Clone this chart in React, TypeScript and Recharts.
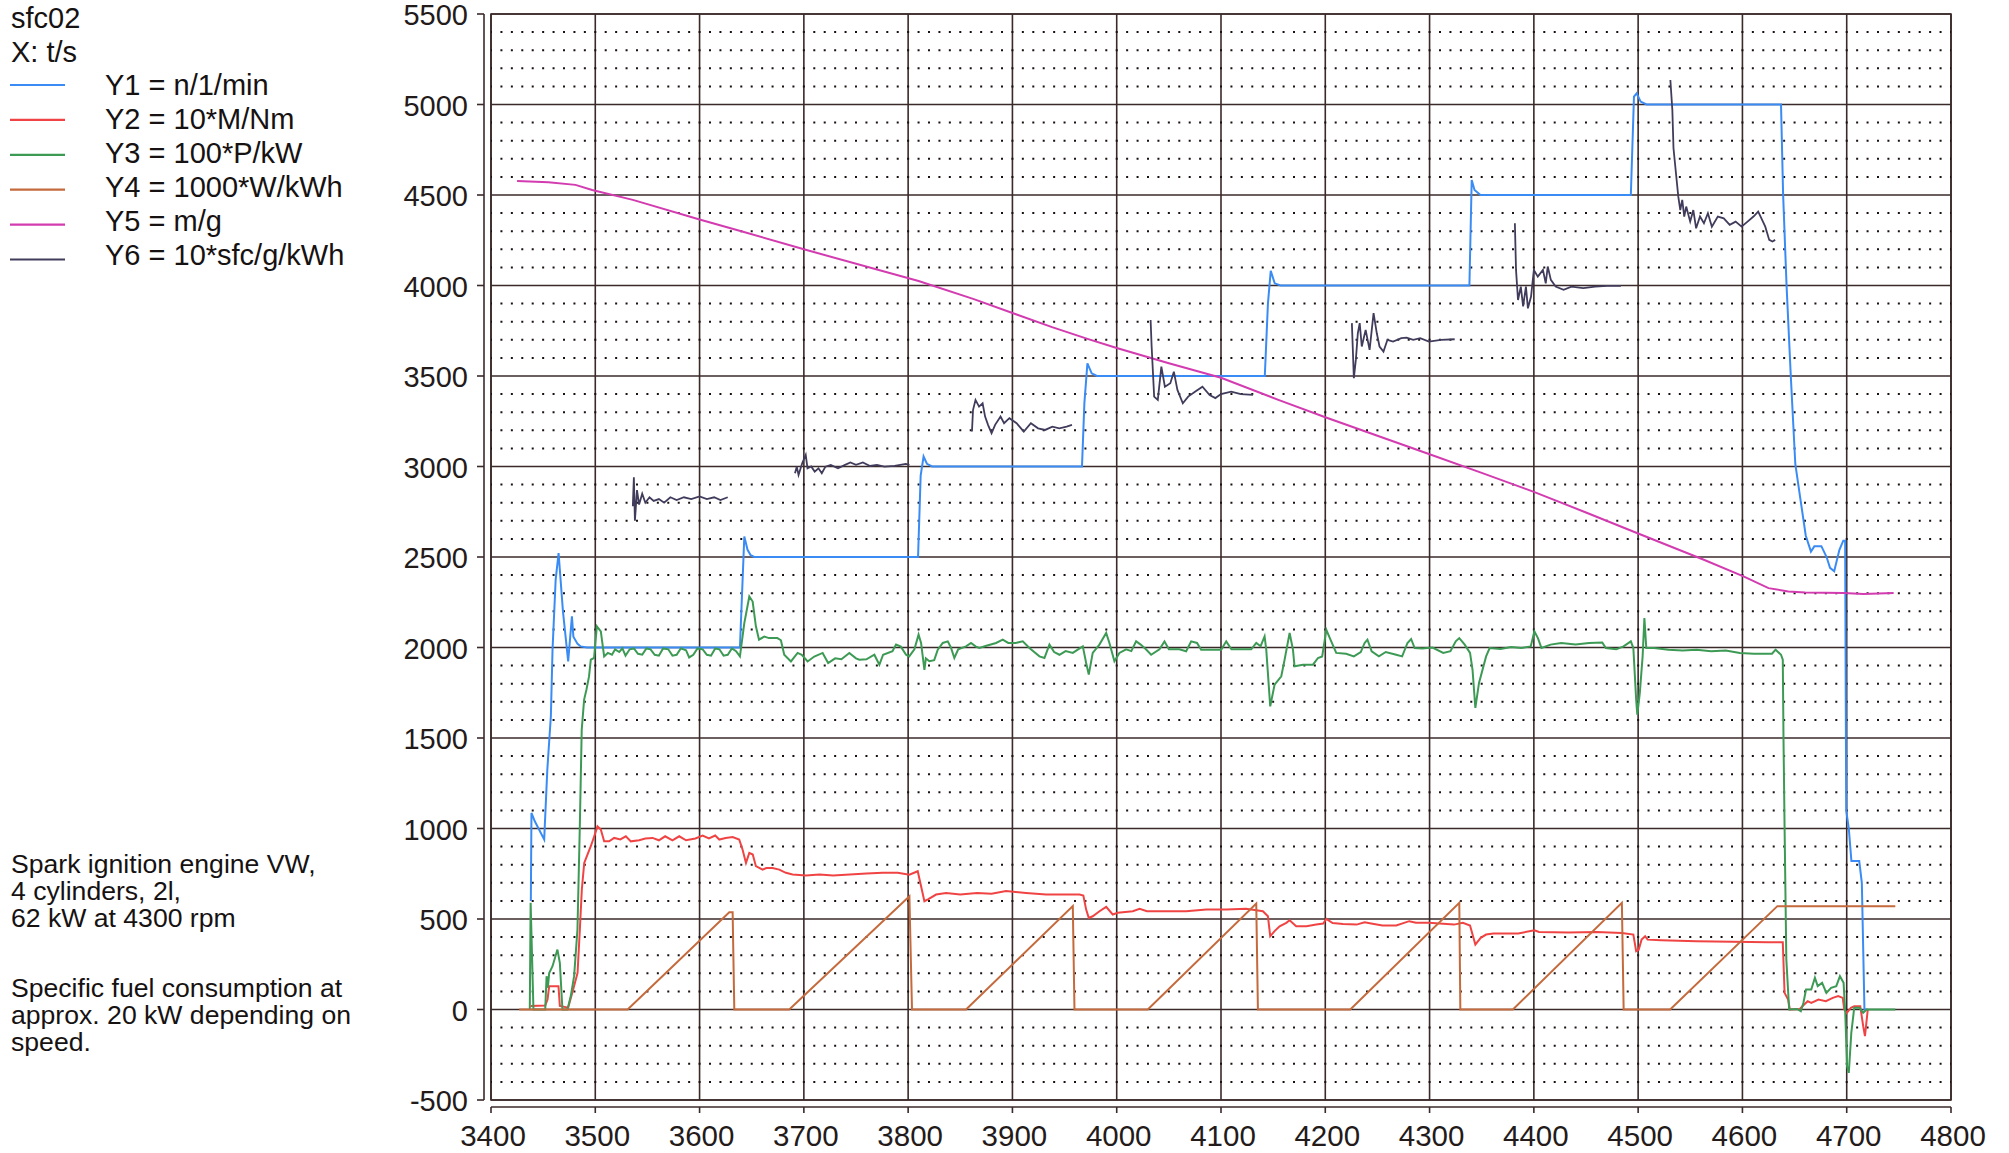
import { CartesianGrid, Line, LineChart, ReferenceArea, ReferenceLine, XAxis, YAxis } from 'recharts';

// t/s against scaled channel values
const X_TICKS = [3400, 3500, 3600, 3700, 3800, 3900, 4000, 4100, 4200, 4300, 4400, 4500, 4600, 4700, 4800];
const Y_TICKS = [-500, 0, 500, 1000, 1500, 2000, 2500, 3000, 3500, 4000, 4500, 5000, 5500];

// Y1 = n/1/min
const speed: [number, number][] = [
  [3438.2, 600], [3438.8, 1086], [3442, 1040], [3451, 939], [3454, 1325], [3457.4, 1620], [3459, 1988],
  [3462, 2374], [3464.8, 2522], [3469, 2200], [3474, 1923], [3477.6, 2172], [3479, 2060], [3483, 2020],
  [3486, 2006], [3492, 2000], [3638.7, 2000], [3642.9, 2613], [3646, 2540], [3649, 2510], [3652.4, 2500],
  [3809.5, 2500], [3812, 2950], [3814.8, 3055], [3818, 3015], [3823, 3000], [3966.7, 3000], [3969, 3350],
  [3971.9, 3570], [3976, 3515], [3981, 3500], [4142, 3500], [4145, 3900], [4147.7, 4081], [4151.5, 4012],
  [4157, 4000], [4338.2, 4000], [4340.4, 4583], [4343.1, 4528], [4348.8, 4500], [4493, 4500], [4496, 5043],
  [4498.6, 5062], [4502.4, 5016], [4508, 5000], [4637, 5000], [4639, 4506], [4642.3, 4002], [4646.3, 3508],
  [4650.7, 3014], [4655.7, 2816], [4660.7, 2619], [4665.7, 2530], [4669, 2560], [4675.7, 2560], [4680.7, 2500],
  [4684, 2440], [4688, 2421], [4693, 2540], [4696.7, 2590], [4698.5, 2590], [4699.5, 1100], [4702, 1000],
  [4704.5, 820], [4712, 820], [4714.5, 700], [4717, 0], [4720, 0],
];

// Y2 = 10*M/Nm
const torque: [number, number][] = [
  [3438, 20], [3452, 22], [3454.2, 55], [3455.8, 129], [3464.7, 129], [3466, 20], [3474, 10], [3478.8, 111],
  [3483, 202], [3485.2, 442], [3487.1, 663], [3489.4, 810], [3492.5, 856], [3495.7, 902], [3499, 957],
  [3502.1, 1012], [3505.3, 994], [3508.5, 929], [3513.3, 929], [3518.1, 948], [3524, 940], [3529.3, 957],
  [3534.1, 929], [3542, 935], [3548, 945], [3554.9, 948], [3561, 935], [3567, 957], [3574, 935], [3580.5, 957],
  [3587, 935], [3596, 945], [3602.9, 961], [3609, 945], [3615, 961], [3618.9, 939], [3625, 948], [3631.7, 953],
  [3638, 939], [3641.2, 884], [3644.5, 810], [3647.7, 865], [3651, 856], [3654, 792], [3660.4, 773],
  [3664, 782], [3670, 782], [3676.4, 773], [3682.8, 755], [3689.2, 746], [3702, 741], [3715, 746], [3728, 741],
  [3744, 746], [3760, 752], [3775.6, 755], [3790, 755], [3801.2, 745], [3809.2, 764], [3812.4, 681],
  [3815.6, 598], [3819, 608], [3826.8, 635], [3836.4, 644], [3850, 635], [3866, 644], [3880, 640],
  [3893.9, 654], [3913, 644], [3932.3, 635], [3950, 635], [3964.3, 635], [3968, 630], [3970.7, 552],
  [3973.2, 506], [3977, 515], [3983.5, 543], [3989.9, 567], [3996.2, 525], [4001, 534], [4015.4, 543],
  [4022, 556], [4029, 543], [4047, 543], [4066.6, 543], [4086, 552], [4105, 552], [4124, 556], [4140.2, 543],
  [4145, 515], [4147.2, 405], [4151.4, 433], [4156.2, 460], [4162.6, 479], [4165.8, 493], [4172.1, 460],
  [4182, 460], [4191.3, 469], [4198, 475], [4201, 501], [4207, 478], [4217, 472], [4230, 469], [4237.7, 482],
  [4244, 475], [4254.8, 464], [4268, 464], [4280.5, 488], [4287, 479], [4299.4, 479], [4313, 474],
  [4323.4, 469], [4331.9, 479], [4338.8, 464], [4341.2, 414], [4343.9, 359], [4349, 396], [4354.2, 414],
  [4361.1, 420], [4385, 420], [4400.5, 438], [4405, 428], [4433, 425], [4460, 428], [4484.4, 423],
  [4495.4, 414], [4498.1, 322], [4500.5, 330], [4503.3, 386], [4506.7, 405], [4509.1, 386], [4522, 383],
  [4556, 377], [4590, 374], [4625, 372], [4638.7, 372], [4640.4, 92], [4643.8, 55], [4645.5, 0], [4655, 3],
  [4659.2, 28], [4662.6, 46], [4666, 37], [4672.9, 55], [4680, 46], [4686.6, 64], [4691.8, 74], [4696.2, 64],
  [4697.6, 0], [4700, -20], [4704, 10], [4707.2, 18], [4713, 18], [4715.8, -92], [4717.5, -147],
  [4719.2, -55], [4720.2, 0],
];

// Y3 = 100*P/kW
const power: [number, number][] = [
  [3437.2, 0], [3438, 590], [3440.7, 0], [3452, 0], [3453.3, 184], [3454.5, 120], [3455.8, 202], [3459, 239],
  [3463.7, 331], [3466, 258], [3468.5, 0], [3473.3, 0], [3476.5, 74], [3479.7, 184], [3482.9, 442],
  [3485.1, 994], [3487, 1546], [3489.3, 1712], [3491.5, 1767], [3494, 1840], [3495.7, 1933], [3498.8, 1942],
  [3501.5, 2117], [3505.3, 2089], [3508.5, 1951], [3512, 1970], [3516, 1960], [3519, 1990], [3523, 1975],
  [3526, 1995], [3529, 1955], [3533, 1990], [3537, 1995], [3541, 1965], [3545, 1960], [3549, 1995],
  [3553, 1990], [3557, 1960], [3561, 1955], [3565, 1995], [3570, 1990], [3574, 1955], [3578, 1960],
  [3582, 1995], [3587, 1985], [3590, 1945], [3594, 1960], [3598, 1995], [3603, 1990], [3607, 1960],
  [3611, 1955], [3615, 1995], [3619, 1990], [3623, 1955], [3627, 1960], [3631, 1995], [3635, 1980],
  [3638.7, 1951], [3642.9, 2135], [3647.7, 2282], [3650.9, 2254], [3654, 2117], [3657, 2043], [3662, 2060],
  [3666.6, 2052], [3674.6, 2052], [3678, 2040], [3681.2, 1960], [3687.6, 1923], [3694, 1970], [3698, 1960],
  [3703.6, 1923], [3710, 1950], [3718, 1970], [3723.3, 1914], [3730, 1940], [3736, 1935], [3743.6, 1970],
  [3750, 1940], [3753.2, 1933], [3760, 1935], [3767.6, 1960], [3772.4, 1905], [3776, 1960], [3785, 1979],
  [3788.4, 2016], [3793, 2005], [3798, 1960], [3801, 1951], [3806, 1990], [3810, 2071], [3812.4, 2025],
  [3815.6, 1877], [3817, 1940], [3820.4, 1924], [3825, 1930], [3828.4, 1988], [3833.2, 2025], [3838, 2034],
  [3841, 2000], [3844.3, 1942], [3848, 1990], [3855.5, 2006], [3860.3, 2025], [3865, 2005], [3868.3, 1997],
  [3875, 2010], [3884.3, 2025], [3890.7, 2043], [3896, 2025], [3903, 2025], [3909.9, 2034], [3916.3, 1997],
  [3925.9, 1951], [3930.7, 1942], [3935.5, 2016], [3940, 1975], [3945.1, 1960], [3951, 1980], [3957.9, 1970],
  [3963, 1990], [3967.5, 2006], [3970.7, 1914], [3973.2, 1850], [3977, 1970], [3983.4, 2016], [3989.9, 2080],
  [3993, 2025], [3997.8, 1924], [4002.6, 1970], [4009, 1990], [4014, 1980], [4018.6, 2034], [4023, 2016],
  [4028, 1990], [4033, 1960], [4041, 1990], [4045.8, 2034], [4050, 1990], [4060, 1990], [4066.6, 1979],
  [4071.4, 2034], [4077, 2025], [4081, 1988], [4092, 1988], [4100.2, 1988], [4105, 2034], [4110, 1990],
  [4118, 1990], [4129, 1990], [4133.8, 2025], [4138, 2007], [4141.8, 2061], [4143.4, 1988], [4147.2, 1675],
  [4151.4, 1795], [4157.8, 1841], [4161, 1933], [4165.8, 2080], [4169, 1988], [4170.5, 1896], [4178.5, 1905],
  [4188.2, 1905], [4193, 1942], [4197, 1950], [4201, 2098], [4205.7, 2034], [4210.5, 1970], [4220, 1965],
  [4227.4, 1951], [4234, 1975], [4237.7, 2025], [4240.4, 2043], [4244.5, 1979], [4251.4, 1951], [4258, 1975],
  [4268, 1960], [4273.7, 1951], [4278.8, 2025], [4282.3, 2047], [4285.7, 1997], [4293, 1995], [4302.8, 2000],
  [4313.1, 1970], [4320, 1980], [4325.1, 2034], [4328.5, 2052], [4333.7, 2016], [4338.8, 1970],
  [4341.2, 1877], [4343.9, 1666], [4347.4, 1804], [4354.2, 1951], [4357.6, 1997], [4368, 1992],
  [4378.2, 2003], [4388, 1997], [4397, 2006], [4400.5, 2089], [4403.9, 2052], [4407.3, 1997], [4416, 2016],
  [4426.2, 2025], [4440, 2016], [4453, 2025], [4465.6, 2028], [4469, 1997], [4479, 1990], [4486, 2006],
  [4493, 2034], [4495.4, 1997], [4498.1, 1712], [4499.2, 1629], [4501.6, 1749], [4504.3, 1951], [4506, 2163],
  [4507.8, 1997], [4515.3, 1997], [4529, 1988], [4542.7, 1984], [4556, 1988], [4570, 1979], [4584, 1984],
  [4597.5, 1970], [4611, 1966], [4628.4, 1966], [4631.8, 1988], [4637, 1960], [4638.7, 1933], [4639.4, 1491],
  [4640.4, 1012], [4642.1, 276], [4644.8, 0], [4652.4, 3], [4656, -10], [4658.5, 37], [4661, 110],
  [4666, 110], [4669.5, 175], [4672.2, 129], [4676.4, 147], [4680.5, 92], [4685, 120], [4690, 129],
  [4693.5, 184], [4697, 147], [4698.6, -18], [4700.3, -313], [4702, -350], [4704.4, -129], [4707.2, 9],
  [4712.3, 9], [4715.8, -18], [4719.2, 0], [4746.6, 0],
];

// Y4 = 1000*W/kWh
const work: [number, number][] = [
  [3427, 0], [3531, 0], [3628.5, 537], [3631.7, 537], [3633.3, 0], [3686, 0], [3801.2, 626], [3803.7, 0],
  [3855.5, 0], [3957.9, 571], [3959.5, 0], [4029.8, 0], [4133.8, 585], [4135.4, 0], [4224, 0],
  [4328.5, 589], [4329.5, 0], [4379.9, 0], [4484.4, 589], [4486.1, 0], [4530.7, 0], [4633.5, 571],
  [4746.6, 571],
];

// Y5 = m/g
const mass: [number, number][] = [
  [3425, 4578], [3455, 4570], [3481, 4556], [3497, 4528], [3536, 4473], [3600, 4365], [3640, 4300],
  [3700, 4200], [3810, 4025], [3863, 3925], [3904, 3840], [3938, 3770], [3972, 3705], [4000, 3655],
  [4050, 3570], [4100, 3490], [4155, 3368], [4200, 3272], [4250, 3170], [4300, 3068], [4350, 2965],
  [4400, 2860], [4450, 2746], [4500, 2630], [4563, 2485], [4601, 2393], [4625, 2328], [4644, 2310],
  [4660, 2304], [4697, 2301], [4716, 2295], [4745, 2301],
];

// Y6 = 10*sfc/g/kWh, only logged during the measuring windows
const sfc: [number, number | null][] = [
  [3536, 2780], [3537, 2940], [3538, 2700], [3540, 2870], [3542, 2790], [3545, 2850], [3548, 2800],
  [3552, 2830], [3556, 2810], [3561, 2820], [3566, 2800], [3572, 2830], [3578, 2815], [3585, 2830],
  [3592, 2820], [3600, 2835], [3607, 2820], [3614, 2830], [3620, 2815], [3627, 2830], [3660, null],
  [3691.5, 2963], [3693.2, 2999], [3694.9, 2953], [3698.4, 3018], [3701.8, 3064], [3703.5, 2990],
  [3707, 3000], [3710.4, 2972], [3714, 2990], [3717.2, 2963], [3720.7, 2999], [3725.8, 3009], [3732.7, 2990],
  [3739.5, 3009], [3744.6, 3022], [3750, 3009], [3756.6, 3022], [3763.5, 3003], [3770, 3009], [3777.2, 2999],
  [3787, 3003], [3797.8, 3014], [3801.2, 3009], [3830, null],
  [3861.2, 3193], [3862.2, 3312], [3864.6, 3368], [3868, 3331], [3871.4, 3349], [3873.8, 3276], [3876.6, 3230],
  [3880, 3184], [3883.4, 3230], [3888.6, 3276], [3892, 3239], [3897.1, 3267], [3904, 3239], [3910.9, 3193],
  [3917.7, 3239], [3924.6, 3211], [3931.4, 3202], [3938.3, 3220], [3945, 3211], [3952, 3220], [3957.1, 3230],
  [3995, null],
  [4032.5, 3809], [4033.5, 3662], [4035.9, 3386], [4039.4, 3368], [4042.8, 3552], [4046.2, 3441],
  [4051.4, 3460], [4054.8, 3524], [4058.2, 3423], [4063.4, 3349], [4068.5, 3386], [4075.4, 3414],
  [4082.2, 3441], [4089.1, 3395], [4094.6, 3378], [4100, 3400], [4109.8, 3414], [4119, 3400], [4130.7, 3396],
  [4180, null],
  [4225.5, 3792], [4227.4, 3488], [4229.3, 3589], [4231.2, 3736], [4233, 3792], [4235, 3663], [4238.7, 3755],
  [4242.5, 3644], [4246.3, 3847], [4249.4, 3736], [4252, 3663], [4255.8, 3635], [4259.6, 3700], [4265, 3690],
  [4272.9, 3709], [4278, 3712], [4284.3, 3700], [4291, 3709], [4299.4, 3690], [4310.8, 3700], [4324.1, 3703],
  [4350, null],
  [4381.8, 4344], [4382.9, 4086], [4384.8, 3920], [4387.5, 3994], [4389.7, 3884], [4392.4, 3994],
  [4394.3, 3874], [4397.3, 3939], [4400, 4086], [4403.8, 4049], [4408.7, 4086], [4411.4, 4012],
  [4413.3, 4105], [4416.3, 4031], [4420.9, 3994], [4428.5, 3976], [4436, 3994], [4447.4, 3985],
  [4458.8, 3994], [4470.2, 3998], [4483.5, 3998], [4510, null],
  [4530.9, 5135], [4532.8, 4970], [4533.9, 4758], [4536.6, 4601], [4538.5, 4491], [4540.4, 4417],
  [4542.3, 4473], [4544.2, 4381], [4546.1, 4436], [4549.9, 4353], [4552.9, 4417], [4555.6, 4316],
  [4559.3, 4381], [4563.1, 4344], [4566.9, 4399], [4570.7, 4325], [4576.4, 4381], [4582.1, 4371],
  [4587.8, 4335], [4593.5, 4353], [4599.2, 4325], [4604.9, 4353], [4610.6, 4381], [4615.1, 4408],
  [4618.2, 4371], [4621.9, 4325], [4625.7, 4252], [4628.8, 4243], [4631.4, 4252],
];

const SERIES = [
  { key: 'Y1', label: 'Y1 = n/1/min', color: '#3a8cf4', data: speed },
  { key: 'Y2', label: 'Y2 = 10*M/Nm', color: '#f04444', data: torque },
  { key: 'Y3', label: 'Y3 = 100*P/kW', color: '#3d9a55', data: power },
  { key: 'Y4', label: 'Y4 = 1000*W/kWh', color: '#c46a3c', data: work },
  { key: 'Y5', label: 'Y5 = m/g', color: '#d23cb0', data: mass },
  { key: 'Y6', label: 'Y6 = 10*sfc/g/kWh', color: '#423c5c', data: sfc },
];

const NOTE_1 = ['Spark ignition engine VW,', '4 cylinders, 2l,', '62 kW at 4300 rpm'];
const NOTE_2 = ['Specific fuel consumption at', 'approx. 20 kW depending on', 'speed.'];

const W = 2009;
const H = 1153;
const PLOT_LEFT = 491;
const PLOT_RIGHT = 1951;
const PLOT_TOP = 14;
const PLOT_BOTTOM = 1100;
const FONT = '"Liberation Sans", Arial, sans-serif';
const INK = '#231a1a';
const GRID = '#3b2a2a';

// 10 s steps along x, 100-unit rows for the dotted sub-grid
const DOT_PERIOD = (PLOT_RIGHT - PLOT_LEFT) / 140;
const MINOR_Y: number[] = [];
for (let v = -400; v < 5500; v += 100) if (v % 500 !== 0) MINOR_Y.push(v);

const YTick = ({ y, payload }: any) => (
  <g>
    <line x1={PLOT_LEFT - 14} x2={PLOT_LEFT - 7} y1={y} y2={y} stroke={GRID} strokeWidth={1.6} />
    <text x={PLOT_LEFT - 23} y={y + 11} textAnchor="end" fontFamily={FONT} fontSize={29} fill={INK}>
      {payload.value}
    </text>
  </g>
);

const XTick = ({ x, payload }: any) => (
  <g>
    <line x1={x} x2={x} y1={PLOT_BOTTOM + 7} y2={PLOT_BOTTOM + 13} stroke={GRID} strokeWidth={1.6} />
    <text x={x + 2} y={PLOT_BOTTOM + 46} textAnchor="middle" fontFamily={FONT} fontSize={29.5} fill={INK}>
      {payload.value}
    </text>
  </g>
);

export default function App() {
  const yPerPx = 6000 / (PLOT_BOTTOM - PLOT_TOP);
  const xPerPx = 1400 / (PLOT_RIGHT - PLOT_LEFT);
  return (
    <div style={{ position: 'absolute', left: 0, top: 0, width: W, height: H, background: '#fff' }}>
      <LineChart
        width={W}
        height={H}
        margin={{ top: PLOT_TOP, right: W - PLOT_RIGHT, bottom: 0, left: 0 }}
      >
        <CartesianGrid stroke={GRID} strokeWidth={1.6} />
        {MINOR_Y.map((v) => (
          <ReferenceLine
            key={v}
            y={v}
            stroke="#1a1010"
            strokeWidth={2}
            strokeDasharray={`2 ${DOT_PERIOD - 2}`}
            strokeDashoffset={1}
          />
        ))}
        <ReferenceArea x1={3400} x2={4800} y1={-500} y2={5500} fill="none" stroke={GRID} strokeWidth={1.6} />
        <XAxis
          type="number"
          dataKey="t"
          domain={[3400, 4800]}
          ticks={X_TICKS}
          height={H - PLOT_BOTTOM}
          axisLine={false}
          tickLine={false}
          tick={<XTick />}
          allowDataOverflow
        />
        <YAxis
          type="number"
          domain={[-500, 5500]}
          ticks={Y_TICKS}
          width={PLOT_LEFT}
          axisLine={false}
          tickLine={false}
          tick={<YTick />}
          allowDataOverflow
        />
        <ReferenceLine
          segment={[{ x: 3400 - 7 * xPerPx, y: -500 }, { x: 3400 - 7 * xPerPx, y: 5500 }]}
          stroke={GRID}
          strokeWidth={1.6}
          ifOverflow="visible"
        />
        <ReferenceLine
          segment={[{ x: 3400, y: -500 - 7 * yPerPx }, { x: 4800, y: -500 - 7 * yPerPx }]}
          stroke={GRID}
          strokeWidth={1.6}
          ifOverflow="visible"
        />
        {SERIES.map((s) => (
          <Line
            key={s.key}
            data={s.data.map(([t, v]) => ({ t, v }))}
            dataKey="v"
            type="linear"
            stroke={s.color}
            strokeWidth={s.key === 'Y6' ? 1.8 : 2}
            dot={false}
            activeDot={false}
            isAnimationActive={false}
          />
        ))}
      </LineChart>
      <svg
        width={W}
        height={H}
        style={{ position: 'absolute', left: 0, top: 0, pointerEvents: 'none' }}
        fontFamily={FONT}
        fill="#161212"
      >
        <text x={11} y={28} fontSize={29}>sfc02</text>
        <text x={11} y={62} fontSize={29}>X: t/s</text>
        {SERIES.map((s, i) => (
          <g key={s.key}>
            <line x1={10} x2={65} y1={85 + i * 34.9} y2={85 + i * 34.9} stroke={s.color} strokeWidth={2.2} />
            <text x={105} y={95 + i * 34} fontSize={29}>{s.label}</text>
          </g>
        ))}
        {NOTE_1.map((line, i) => (
          <text key={line} x={11} y={873 + i * 27} fontSize={26.6}>{line}</text>
        ))}
        {NOTE_2.map((line, i) => (
          <text key={line} x={11} y={997 + i * 27} fontSize={26.6}>{line}</text>
        ))}
      </svg>
    </div>
  );
}
